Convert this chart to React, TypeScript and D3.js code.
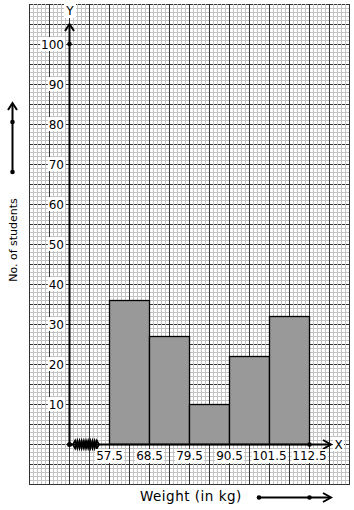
import React from "react";
import * as d3 from "d3";

const boundaries = [57.5, 68.5, 79.5, 90.5, 101.5, 112.5];
const boundaryLabels = ["57.5", "68.5", "79.5", "90.5", "101.5", "112.5"];
const frequencies = [36, 27, 10, 22, 32];
const yTicks = [10, 20, 30, 40, 50, 60, 70, 80, 90, 100];

const W = 354;
const H = 510;
const gridLeft = 29, gridRight = 349, gridTop = 4, gridBottom = 484;

const x = d3.scaleLinear().domain([46.5, 123.5]).range([69, 349]);
const y = d3.scaleLinear().domain([0, 100]).range([444, 44]);

const font = "DejaVu Sans, sans-serif";

function Chevron({ x0, y0, dir }: { x0: number; y0: number; dir: "up" | "right" }) {
  const p =
    dir === "up"
      ? `M${x0 - 4.5},${y0 + 7} L${x0},${y0} L${x0 + 4.5},${y0 + 7}`
      : `M${x0 - 8},${y0 - 4.5} L${x0},${y0} L${x0 - 8},${y0 + 4.5}`;
  return <path d={p} fill="none" stroke="#000" strokeWidth={2} />;
}

export default function App() {
  const minorX = d3.range(gridLeft, gridRight + 0.1, 4);
  const minorY = d3.range(gridTop, gridBottom + 0.1, 4);
  const majorX = d3.range(gridLeft, gridRight + 0.1, 20);
  const majorY = d3.range(gridTop, gridBottom + 0.1, 20);
  const x0 = x(46.5);
  const y0 = y(0);

  // zigzag break symbol (two interleaved zigzags give the "wwww" look)
  const makeZZ = (phase: number) => {
    const pts: [number, number][] = [];
    const zStart = 73, zEnd = 99, teeth = 12;
    for (let i = 0; i <= teeth; i++) {
      const px = zStart + ((zEnd - zStart) * i) / teeth;
      pts.push([px, i === 0 || i === teeth ? y0 : y0 + ((i + phase) % 2 === 0 ? 4 : -4)]);
    }
    return d3.line()(pts) as string;
  };

  return (
    <svg
      width={W}
      height={H}
      style={{ position: "absolute", left: 0, top: 0, background: "#fff" }}
      fontFamily={font}
    >
      <rect x={0} y={0} width={W} height={H} fill="#fff" />
      {/* grid */}
      <g shapeRendering="crispEdges">
        {majorY.map((v) => (
          <line key={"mh" + v} x1={gridLeft} x2={gridRight} y1={v + 0.5} y2={v + 0.5} stroke="#333" strokeWidth={1} />
        ))}
        {minorY.filter((v) => (v - gridTop) % 20 !== 0).map((v) => (
          <line key={"nh" + v} x1={gridLeft} x2={gridRight} y1={v + 0.5} y2={v + 0.5} stroke="#c4c4c4" strokeWidth={1} />
        ))}
        {minorX.filter((v) => (v - gridLeft) % 20 !== 0).map((v) => (
          <line key={"nv" + v} x1={v + 0.5} x2={v + 0.5} y1={gridTop} y2={gridBottom} stroke="#c4c4c4" strokeWidth={1} />
        ))}
        {majorX.map((v) => (
          <line key={"mv" + v} x1={v + 0.5} x2={v + 0.5} y1={gridTop} y2={gridBottom + 1} stroke="#333" strokeWidth={1} />
        ))}
      </g>

      {/* bars */}
      {frequencies.map((f, i) => (
        <rect
          key={"b" + i}
          x={x(boundaries[i]) + 0.5}
          y={y(f) + 0.5}
          width={x(boundaries[i + 1]) - x(boundaries[i])}
          height={y(0) - y(f)}
          fill="#999999"
          stroke="#000"
          strokeWidth={1.3}
        />
      ))}

      {/* y axis */}
      <line x1={x0 + 0.5} x2={x0 + 0.5} y1={24} y2={y0} stroke="#000" strokeWidth={2} />
      <Chevron x0={x0 + 0.5} y0={24} dir="up" />
      <circle cx={x0 + 0.5} cy={y(100)} r={2.3} fill="#000" />
      {/* x axis */}
      <line x1={x0} x2={330} y1={y0 + 0.5} y2={y0 + 0.5} stroke="#000" strokeWidth={2} />
      <Chevron x0={331} y0={y0 + 0.5} dir="right" />
      <circle cx={x0 + 0.5} cy={y0 + 0.5} r={2.5} fill="#000" />
      <circle cx={x(112.5) + 0.5} cy={y0 + 0.5} r={2.3} fill="#000" />
      <g transform="translate(0,0.5)">
        <path d={makeZZ(0)} fill="none" stroke="#000" strokeWidth={1.6} />
        <path d={makeZZ(1)} fill="none" stroke="#000" strokeWidth={1.6} />
      </g>

      {/* y tick labels */}
      {yTicks.map((t) => {
        const label = String(t);
        const w = label.length * 7.6;
        return (
          <g key={"yt" + t}>
            <rect x={64 - w - 1} y={y(t) - 7} width={w + 2} height={14} fill="#fff" />
            <text x={64} y={y(t) + 0.5} textAnchor="end" dominantBaseline="central" fontSize={12} fill="#000">
              {label}
            </text>
          </g>
        );
      })}

      {/* x tick labels */}
      {boundaryLabels.map((l, i) => {
        const w = l.length * 7.2;
        const cx = x(boundaries[i]) + 0.5;
        return (
          <g key={"xt" + i}>
            <rect x={cx - w / 2} y={449} width={w} height={14} fill="#fff" />
            <text x={cx} y={460} textAnchor="middle" fontSize={12} fill="#000">
              {l}
            </text>
          </g>
        );
      })}

      {/* axis letters */}
      <rect x={64} y={4} width={12} height={14} fill="#fff" />
      <text x={70} y={11} textAnchor="middle" dominantBaseline="central" fontSize={12}>Y</text>
      <rect x={333} y={437} width={11} height={14} fill="#fff" />
      <text x={338.5} y={444.5} textAnchor="middle" dominantBaseline="central" fontSize={12}>X</text>

      {/* x title */}
      <text x={140} y={501} fontSize={13.5} letterSpacing={0.5} fill="#000">Weight (in kg)</text>
      <line x1={259} x2={330} y1={497.5} y2={497.5} stroke="#000" strokeWidth={2} />
      <Chevron x0={331} y0={497.5} dir="right" />
      <circle cx={259} cy={497.5} r={2.3} fill="#000" />
      <circle cx={309.5} cy={497.5} r={2.3} fill="#000" />

      {/* y title */}
      <text
        transform="translate(17,240) rotate(-90)"
        textAnchor="middle"
        fontSize={11}
        fill="#000"
      >
        No. of students
      </text>
      <line x1={12.5} x2={12.5} y1={104} y2={172} stroke="#000" strokeWidth={2} />
      <Chevron x0={12.5} y0={103} dir="up" />
      <circle cx={12.5} cy={122} r={2.3} fill="#000" />
      <circle cx={12.5} cy={172} r={2.3} fill="#000" />
    </svg>
  );
}
